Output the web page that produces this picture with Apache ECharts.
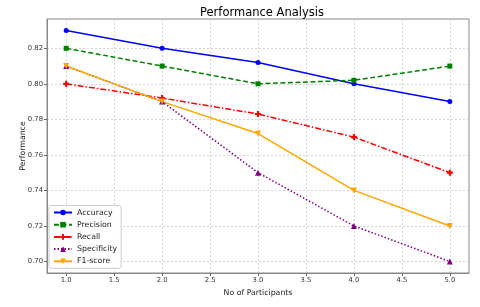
<!DOCTYPE html>
<html><head><meta charset="utf-8">
<script src="https://cdn.jsdelivr.net/npm/echarts@6/dist/echarts.min.js"></script>
<style>html,body{margin:0;padding:0;background:#fff}#c{width:480px;height:307px}</style>
</head><body><div id="c"></div>
<script>
const participants = [1, 2, 3, 4, 5];
const accuracy    = [0.83, 0.82, 0.812, 0.80, 0.79];
const precision   = [0.82, 0.81, 0.80, 0.802, 0.81];
const recall      = [0.80, 0.792, 0.783, 0.77, 0.75];
const specificity = [0.81, 0.79, 0.75, 0.72, 0.70];
const f1score     = [0.81, 0.79, 0.772, 0.74, 0.72];
const xTicks = [1.0, 1.5, 2.0, 2.5, 3.0, 3.5, 4.0, 4.5, 5.0];
const yTicks = [0.70, 0.72, 0.74, 0.76, 0.78, 0.80, 0.82];

const FONT = 'DejaVu Sans';
const pair = arr => participants.map((x, i) => [x, arr[i]]);
const plusPath = 'path://M3.2,0 H6.8 V3.2 H10 V6.8 H6.8 V10 H3.2 V6.8 H0 V3.2 H3.2 Z';
const downTri = 'path://M0,0 L10,0 L5,9 Z';

function mk(name, data, color, type, symbol, size) {
  return {
    name, type: 'line', data: pair(data), color,
    symbol, symbolSize: size, showSymbol: true,
    lineStyle: { width: 1.5, type, color },
    itemStyle: { color },
    emphasis: { disabled: true }, animation: false
  };
}

const chart = echarts.init(document.getElementById('c'), null, { renderer: 'canvas' });
chart.setOption({
  animation: false,
  backgroundColor: '#fff',
  title: {
    text: 'Performance Analysis', left: 195, top: 2,
    textStyle: { fontFamily: FONT, fontSize: 11.5, fontWeight: 'normal', color: '#000' }
  },
  grid: { left: 47, top: 19, right: 11, bottom: 34, show: true, borderColor: '#888', borderWidth: 1, containLabel: false },
  legend: {
    orient: 'vertical', left: 49, top: 205.5,
    itemWidth: 18, itemHeight: 7, itemGap: 4.2,
    padding: [3, 4, 3, 4],
    backgroundColor: 'rgba(255,255,255,0.85)', borderColor: '#ccc', borderWidth: 1, borderRadius: 2,
    textStyle: { fontFamily: FONT, fontSize: 7.8, color: '#222', padding: [0, 0, 0, 0] },
    data: ['Accuracy', 'Precision', 'Recall', 'Specificity', 'F1-score']
  },
  xAxis: {
    type: 'value', min: 0.8, max: 5.2,
    name: 'No of Participants', nameLocation: 'middle', nameGap: 16, nameMoveOverlap: false,
    nameTextStyle: { fontFamily: FONT, fontSize: 7.8, color: '#222' },
    axisLine: { show: true, lineStyle: { color: '#888' } },
    axisTick: { show: true, length: 3, customValues: xTicks, lineStyle: { color: '#666' } },
    axisLabel: { customValues: xTicks, fontFamily: FONT, fontSize: 6.8, color: '#333', margin: 4,
      formatter: v => v.toFixed(1) },
    splitLine: { show: true, lineStyle: { color: '#c8c8c8', type: [2, 2], width: 0.8 } }
  },
  yAxis: {
    type: 'value', min: 0.6935, max: 0.8365,
    name: 'Performance', nameLocation: 'middle', nameGap: 20, nameMoveOverlap: false,
    nameTextStyle: { fontFamily: FONT, fontSize: 7.8, color: '#222' },
    axisLine: { show: true, lineStyle: { color: '#888' } },
    axisTick: { show: true, length: 3, customValues: yTicks, lineStyle: { color: '#666' } },
    axisLabel: { customValues: yTicks, fontFamily: FONT, fontSize: 6.8, color: '#333', margin: 4,
      formatter: v => v.toFixed(2) },
    splitLine: { show: true, lineStyle: { color: '#c8c8c8', type: [2, 2], width: 0.8 } }
  },
  series: [
    mk('Accuracy', accuracy, '#0000ff', 'solid', 'circle', 5),
    mk('Precision', precision, '#008000', [5, 2.5], 'rect', 5),
    mk('Recall', recall, '#ff0000', [6, 2, 1.5, 2], plusPath, 6),
    mk('Specificity', specificity, '#800080', [1.5, 2], 'triangle', 6),
    mk('F1-score', f1score, '#ffa500', 'solid', downTri, 6)
  ]
});
</script></body></html>
